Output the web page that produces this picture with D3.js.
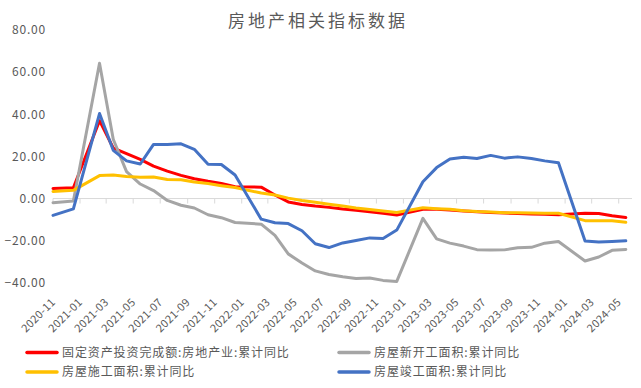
<!DOCTYPE html>
<html>
<head>
<meta charset="utf-8">
<script src="https://cdn.jsdelivr.net/npm/d3@7"></script>
<style>
  body { margin: 0; background: #fff; }
  text { font-family: "Noto Sans CJK SC", "Noto Sans", sans-serif; fill: #595959; }
</style>
</head>
<body>
<script>
// monthly cumulative data, January is never published (Jan-Feb combined)
const months = [
    "2020-11", "2020-12",
    "2021-02", "2021-03", "2021-04", "2021-05", "2021-06", "2021-07", "2021-08", "2021-09", "2021-10", "2021-11", "2021-12",
    "2022-02", "2022-03", "2022-04", "2022-05", "2022-06", "2022-07", "2022-08", "2022-09", "2022-10", "2022-11", "2022-12",
    "2023-02", "2023-03", "2023-04", "2023-05", "2023-06", "2023-07", "2023-08", "2023-09", "2023-10", "2023-11", "2023-12",
    "2024-02", "2024-03", "2024-04", "2024-05"];

const investment = [
    4.8, 5.1,
    37.0, 24.0, 21.3, 18.6, 15.4, 13.0, 11.0, 9.4, 8.2, 7.2, 5.6,
    5.4, 1.7, -1.6, -2.8, -3.6, -4.2, -5.0, -5.6, -6.3, -7.0, -7.8,
    -5.1, -5.1, -5.4, -5.9, -6.3, -6.6, -6.9, -7.1, -7.3, -7.5, -7.7,
    -7.0, -7.1, -8.2, -9.0];

const newStarts = [
    -2.0, -1.2,
    64.3, 28.2, 12.8, 6.9, 3.8, -0.9, -3.2, -4.5, -7.7, -9.1, -11.4,
    -12.2, -17.5, -26.3, -30.6, -34.4, -36.1, -37.2, -38.0, -37.8, -38.9, -39.4,
    -9.4, -19.2, -21.2, -22.6, -24.3, -24.5, -24.4, -23.4, -23.2, -21.2, -20.4,
    -29.7, -27.8, -24.6, -24.2];

const underConstruction = [
    3.4, 3.9,
    10.9, 11.2, 10.5, 10.1, 10.2, 9.0, 8.9, 7.9, 7.1, 6.1, 5.2,
    2.6, 1.7, 0.2, -0.9, -1.8, -2.7, -3.6, -4.5, -5.2, -5.9, -6.6,
    -4.4, -4.8, -5.1, -5.8, -6.2, -6.4, -6.7, -6.8, -6.9, -7.0, -7.0,
    -10.5, -10.6, -10.6, -11.3];

const completed = [
    -8.0, -4.9,
    40.4, 22.9, 17.9, 16.4, 25.7, 25.7, 26.0, 23.4, 16.3, 16.2, 11.2,
    -9.8, -11.5, -11.9, -15.3, -21.5, -23.3, -21.1, -19.9, -18.7, -19.0, -15.0,
    8.0, 14.7, 18.8, 19.6, 19.0, 20.5, 19.2, 19.8, 19.0, 17.9, 17.0,
    -20.2, -20.7, -20.4, -20.1];

const seriesNames = [
    "固定资产投资完成额:房地产业:累计同比",
    "房屋新开工面积:累计同比",
    "房屋施工面积:累计同比",
    "房屋竣工面积:累计同比"];

const yTicks = [-40, -20, 0, 20, 40, 60, 80];

const width = 641, height = 388;
const plot = { left: 53, right: 632, top: 30.2, bottom: 282.7 };

const svg = d3.select("body").append("svg")
    .attr("width", width)
    .attr("height", height);

const parse = d3.timeParse("%Y-%m");
const monthEnd = m => d3.timeDay.offset(d3.timeMonth.offset(parse(m), 1), -1);

const x = d3.scaleTime()
    .domain([new Date(2020, 10, 15), new Date(2024, 5, 14)])
    .range([plot.left, plot.right]);

const y = d3.scaleLinear()
    .domain([-40, 80])
    .range([plot.bottom, plot.top]);

// first observation sits on the axis start
const px = (m, i) => i === 0 ? plot.left : x(monthEnd(m));

svg.append("text")
    .attr("x", 318)
    .attr("y", 27)
    .attr("text-anchor", "middle")
    .style("font-size", "17px")
    .style("letter-spacing", "3px")
    .text("房地产相关指标数据");

// y labels, no axis line
svg.append("g")
    .selectAll("text")
    .data(yTicks)
    .enter().append("text")
        .attr("x", 46)
        .attr("y", d => y(d))
        .attr("dy", "0.35em")
        .attr("text-anchor", "end")
        .style("font-size", "12px")
        .style("letter-spacing", "0.8px")
        .text(d => d3.format(".2f")(d));

// category axis along zero
const xTicks = d3.timeMonth.every(2).range(new Date(2020, 10, 1), new Date(2024, 5, 1))
    .map(d => new Date(d.getFullYear(), d.getMonth(), 15));

const axis = svg.append("g");
axis.append("line")
    .attr("x1", plot.left).attr("x2", plot.right)
    .attr("y1", y(0)).attr("y2", y(0))
    .attr("stroke", "#d9d9d9");
axis.selectAll("line.tick")
    .data(xTicks)
    .enter().append("line")
        .attr("class", "tick")
        .attr("x1", d => x(d)).attr("x2", d => x(d))
        .attr("y1", y(0)).attr("y2", y(0) + 5)
        .attr("stroke", "#d9d9d9");
axis.selectAll("text")
    .data(xTicks)
    .enter().append("text")
        .attr("transform", d => "translate(" + (x(d) + 3) + "," + 303 + ") rotate(-45)")
        .attr("text-anchor", "end")
        .style("font-size", "11px")
        .style("letter-spacing", "0.3px")
        .text(d => d3.timeFormat("%Y-%m")(d));

const series = [
    { name: seriesNames[0], values: investment, color: "#ff0000" },
    { name: seriesNames[1], values: newStarts, color: "#a5a5a5" },
    { name: seriesNames[2], values: underConstruction, color: "#ffc000" },
    { name: seriesNames[3], values: completed, color: "#4472c4" }];

const line = d3.line()
    .x((d, i) => px(months[i], i))
    .y(d => y(d));

svg.append("g")
    .selectAll("path")
    .data(series)
    .enter().append("path")
        .attr("d", s => line(s.values))
        .attr("fill", "none")
        .attr("stroke", s => s.color)
        .attr("stroke-width", 3)
        .attr("stroke-linejoin", "round")
        .attr("stroke-linecap", "round");

// legend, two rows of two
const legendPos = [[27, 352.5], [339, 352.5], [27, 372], [339, 372]];
const legend = svg.append("g")
    .selectAll("g")
    .data(series)
    .enter().append("g")
        .attr("transform", (s, i) => "translate(" + legendPos[i][0] + "," + legendPos[i][1] + ")");
legend.append("line")
    .attr("x1", 0).attr("x2", 30)
    .attr("stroke", s => s.color)
    .attr("stroke-width", 3.5)
    .attr("stroke-linecap", "round");
legend.append("text")
    .attr("x", 35)
    .attr("dy", "0.35em")
    .style("font-size", "12px")
    .style("letter-spacing", "0.9px")
    .text(s => s.name);
</script>
</body>
</html>
